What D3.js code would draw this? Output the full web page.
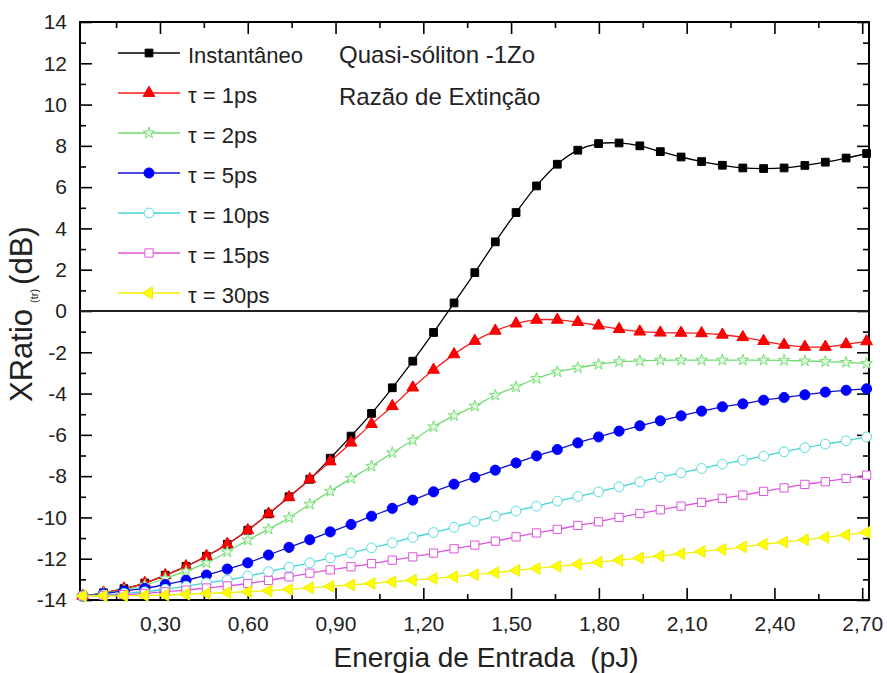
<!DOCTYPE html>
<html lang="pt">
<head>
    <meta charset="UTF-8">
    <title>Razão de Extinção</title>
    <script src="https://d3js.org/d3.v7.min.js"></script>
    <style>
        body { margin: 0; background: #fff; }
        svg text { font-family: "Liberation Sans", Arial, sans-serif; fill: #222; white-space: pre; }
        .axis text { font-size: 21px; }
        .axis line { stroke: #000; stroke-width: 1.6px; }
        .axis path { display: none; }
    </style>
</head>
<body>
<script>
    // energia de entrada (pJ)
    var energia = [0.036, 0.107, 0.177, 0.248, 0.318, 0.389, 0.459, 0.530, 0.600, 0.671,
        0.741, 0.812, 0.882, 0.953, 1.023, 1.094, 1.164, 1.235, 1.305, 1.376,
        1.446, 1.517, 1.587, 1.658, 1.728, 1.799, 1.869, 1.940, 2.010, 2.081,
        2.151, 2.222, 2.292, 2.363, 2.433, 2.504, 2.574, 2.645, 2.715];

    var instantaneo = [-13.8, -13.65, -13.45, -13.18, -12.8, -12.37, -11.88, -11.3, -10.62, -9.83,
        -9.0, -8.15, -7.13, -6.06, -4.96, -3.72, -2.43, -1.04, 0.39, 1.86,
        3.35, 4.77, 6.06, 7.11, 7.79, 8.11, 8.14, 8.0, 7.72, 7.46,
        7.24, 7.06, 6.93, 6.9, 6.93, 7.05, 7.21, 7.41, 7.63];
    var tau1 = [-13.8, -13.65, -13.45, -13.18, -12.8, -12.37, -11.87, -11.29, -10.62, -9.82,
        -9.02, -8.15, -7.29, -6.38, -5.48, -4.61, -3.71, -2.85, -2.1, -1.45,
        -0.96, -0.61, -0.43, -0.43, -0.54, -0.71, -0.88, -1.0, -1.05, -1.06,
        -1.08, -1.15, -1.27, -1.46, -1.64, -1.74, -1.74, -1.61, -1.47];
    var tau2 = [-13.8, -13.68, -13.52, -13.28, -12.95, -12.6, -12.2, -11.67, -11.1, -10.57,
        -10.02, -9.36, -8.73, -8.11, -7.52, -6.87, -6.26, -5.61, -5.07, -4.61,
        -4.08, -3.68, -3.27, -2.95, -2.75, -2.58, -2.46, -2.42, -2.38, -2.38,
        -2.38, -2.38, -2.38, -2.38, -2.39, -2.42, -2.45, -2.49, -2.54];
    var tau5 = [-13.8, -13.7, -13.56, -13.44, -13.25, -13.05, -12.79, -12.5, -12.2, -11.82,
        -11.45, -11.08, -10.7, -10.34, -9.94, -9.56, -9.16, -8.76, -8.39, -8.06,
        -7.71, -7.36, -7.02, -6.71, -6.39, -6.1, -5.82, -5.56, -5.32, -5.08,
        -4.85, -4.64, -4.5, -4.32, -4.19, -4.06, -3.93, -3.84, -3.77];
    var tau10 = [-13.8, -13.75, -13.68, -13.6, -13.48, -13.33, -13.17, -13.03, -12.84, -12.63,
        -12.41, -12.2, -11.96, -11.72, -11.47, -11.23, -10.97, -10.73, -10.48, -10.2,
        -9.94, -9.69, -9.45, -9.21, -8.99, -8.76, -8.52, -8.28, -8.05, -7.84,
        -7.63, -7.42, -7.23, -7.03, -6.82, -6.62, -6.45, -6.29, -6.1];
    var tau15 = [-13.8, -13.78, -13.74, -13.68, -13.6, -13.52, -13.42, -13.32, -13.2, -13.05,
        -12.88, -12.7, -12.54, -12.39, -12.24, -12.07, -11.91, -11.73, -11.52, -11.34,
        -11.15, -10.94, -10.75, -10.58, -10.39, -10.21, -10.0, -9.81, -9.63, -9.45,
        -9.27, -9.08, -8.92, -8.74, -8.57, -8.4, -8.27, -8.11, -7.95];
    var tau30 = [-13.8, -13.8, -13.79, -13.78, -13.76, -13.72, -13.68, -13.64, -13.6, -13.55,
        -13.48, -13.41, -13.34, -13.27, -13.2, -13.12, -13.04, -12.96, -12.87, -12.77,
        -12.67, -12.57, -12.47, -12.37, -12.27, -12.17, -12.07, -11.96, -11.87, -11.76,
        -11.65, -11.55, -11.43, -11.3, -11.19, -11.08, -10.97, -10.85, -10.72];

    var nomes = ['Instantâneo', 'τ = 1ps', 'τ = 2ps', 'τ = 5ps', 'τ = 10ps', 'τ = 15ps', 'τ = 30ps'];
    var xTicks = [0.3, 0.6, 0.9, 1.2, 1.5, 1.8, 2.1, 2.4, 2.7];
    var xMinor = [0.15, 0.45, 0.75, 1.05, 1.35, 1.65, 1.95, 2.25, 2.55];
    var yTicks = [-14, -12, -10, -8, -6, -4, -2, 0, 2, 4, 6, 8, 10, 12, 14];
    var yMinor = [-13, -11, -9, -7, -5, -3, -1, 1, 3, 5, 7, 9, 11, 13];

    var width = 887;
    var height = 673;
    var pLeft = 80, pRight = 869, pTop = 22, pBottom = 600;

    var svg = d3.select('body')
        .append('svg')
        .attr('width', width)
        .attr('height', height);

    var xscale = d3.scaleLinear()
        .domain([0.0267, 2.7232])
        .range([pLeft, pRight]);

    var yscale = d3.scaleLinear()
        .domain([-14, 14])
        .range([pBottom, pTop]);

    var br = d3.formatLocale({decimal: ',', thousands: '.', grouping: [3], currency: ['R$', '']});
    var fmt = br.format('.2f');

    // eixos: ticks para dentro nos quatro lados
    svg.append('g')
        .attr('class', 'axis')
        .attr('transform', 'translate(0,' + pBottom + ')')
        .call(d3.axisBottom(xscale).tickValues(xTicks).tickSize(-12).tickPadding(16).tickFormat(fmt));
    svg.append('g')
        .attr('class', 'axis')
        .attr('transform', 'translate(0,' + pBottom + ')')
        .call(d3.axisBottom(xscale).tickValues(xMinor).tickSize(-6).tickFormat(''));
    svg.append('g')
        .attr('class', 'axis')
        .attr('transform', 'translate(0,' + pTop + ')')
        .call(d3.axisTop(xscale).tickValues(xTicks).tickSize(-12).tickFormat(''));
    svg.append('g')
        .attr('class', 'axis')
        .attr('transform', 'translate(0,' + pTop + ')')
        .call(d3.axisTop(xscale).tickValues(xMinor).tickSize(-6).tickFormat(''));

    svg.append('g')
        .attr('class', 'axis')
        .attr('transform', 'translate(' + pLeft + ',0)')
        .call(d3.axisLeft(yscale).tickValues(yTicks).tickSize(-12).tickPadding(13));
    svg.append('g')
        .attr('class', 'axis')
        .attr('transform', 'translate(' + pLeft + ',0)')
        .call(d3.axisLeft(yscale).tickValues(yMinor).tickSize(-6).tickFormat(''));
    svg.append('g')
        .attr('class', 'axis')
        .attr('transform', 'translate(' + pRight + ',0)')
        .call(d3.axisRight(yscale).tickValues(yTicks).tickSize(-12).tickFormat(''));
    svg.append('g')
        .attr('class', 'axis')
        .attr('transform', 'translate(' + pRight + ',0)')
        .call(d3.axisRight(yscale).tickValues(yMinor).tickSize(-6).tickFormat(''));

    // sinal de menos como hifen, igual ao original
    svg.selectAll('.axis text').text(function () {
        return this.textContent.replace('−', '-');
    });

    // linha do zero
    svg.append('line')
        .attr('x1', pLeft)
        .attr('x2', pRight)
        .attr('y1', yscale(0))
        .attr('y2', yscale(0))
        .attr('stroke', '#222')
        .attr('stroke-width', 2);

    // moldura
    svg.append('rect')
        .attr('x', pLeft)
        .attr('y', pTop)
        .attr('width', pRight - pLeft)
        .attr('height', pBottom - pTop)
        .attr('fill', 'none')
        .attr('stroke', '#000')
        .attr('stroke-width', 2);

    var series = [
        {nome: nomes[0], valores: instantaneo, linha: '#000', borda: '#000', fundo: '#000', simbolo: d3.symbolSquare, tam: 60, rot: 0},
        {nome: nomes[1], valores: tau1, linha: '#ff1a1a', borda: '#ee0000', fundo: '#ff0000', simbolo: d3.symbolTriangle, tam: 60, rot: 0},
        {nome: nomes[2], valores: tau2, linha: '#70dd70', borda: '#77dd77', fundo: '#e4fae0', simbolo: d3.symbolStar, tam: 42, rot: 0},
        {nome: nomes[3], valores: tau5, linha: '#1010d0', borda: '#0000ff', fundo: '#0000ff', simbolo: d3.symbolCircle, tam: 80, rot: 0},
        {nome: nomes[4], valores: tau10, linha: '#44d4d4', borda: '#55dddd', fundo: '#ffffff', simbolo: d3.symbolCircle, tam: 76, rot: 0},
        {nome: nomes[5], valores: tau15, linha: '#dd55dd', borda: '#dd55dd', fundo: '#ffffff', simbolo: d3.symbolSquare, tam: 68, rot: 0},
        {nome: nomes[6], valores: tau30, linha: '#f0f000', borda: '#eeee00', fundo: '#ffff00', simbolo: d3.symbolTriangle, tam: 60, rot: -90}
    ];

    var line = d3.line()
        .x(function (d, i) { return xscale(energia[i]); })
        .y(function (d) { return yscale(d); })
        .curve(d3.curveCatmullRom);

    series.forEach(function (s) {
        var g = svg.append('g');
        g.append('path')
            .attr('d', line(s.valores))
            .attr('fill', 'none')
            .attr('stroke', s.linha)
            .attr('stroke-width', 1.3);
        g.selectAll('path.mk')
            .data(s.valores)
            .enter()
            .append('path')
            .attr('class', 'mk')
            .attr('d', d3.symbol().type(s.simbolo).size(s.tam))
            .attr('transform', function (d, i) {
                return 'translate(' + xscale(energia[i]) + ',' + yscale(d) + ') rotate(' + s.rot + ')';
            })
            .attr('fill', s.fundo)
            .attr('stroke', s.borda)
            .attr('stroke-width', 1);
    });

    // legenda
    var legenda = svg.append('g');
    series.forEach(function (s, k) {
        var ly = 53 + 40 * k;
        legenda.append('line')
            .attr('x1', 118)
            .attr('x2', 180)
            .attr('y1', ly)
            .attr('y2', ly)
            .attr('stroke', s.linha)
            .attr('stroke-width', 1.3);
        legenda.append('path')
            .attr('d', d3.symbol().type(s.simbolo).size(s.tam))
            .attr('transform', 'translate(149,' + ly + ') rotate(' + s.rot + ')')
            .attr('fill', s.fundo)
            .attr('stroke', s.borda);
        legenda.append('text')
            .attr('x', 188)
            .attr('y', ly + 2)
            .attr('dy', '0.35em')
            .style('font-size', '22px')
            .text(s.nome);
    });

    svg.append('text')
        .attr('x', 339)
        .attr('y', 63)
        .style('font-size', '24px')
        .text('Quasi-sóliton -1Zo');
    svg.append('text')
        .attr('x', 339)
        .attr('y', 105)
        .style('font-size', '24px')
        .text('Razão de Extinção');

    // titulos dos eixos
    svg.append('text')
        .attr('x', 486)
        .attr('y', 667)
        .attr('text-anchor', 'middle')
        .style('font-size', '28px')
        .text('Energia de Entrada  (pJ)');

    var ytit = svg.append('text')
        .attr('transform', 'translate(32,402) rotate(-90)')
        .attr('x', 0)
        .attr('y', 0)
        .style('font-size', '31px');
    ytit.append('tspan').text('XRatio');
    ytit.append('tspan').attr('dx', 6).attr('dy', 6).style('font-size', '11px').text('(tr)');
    ytit.append('tspan').attr('dx', 4).attr('dy', -6).text('(dB)');
</script>
</body>
</html>
